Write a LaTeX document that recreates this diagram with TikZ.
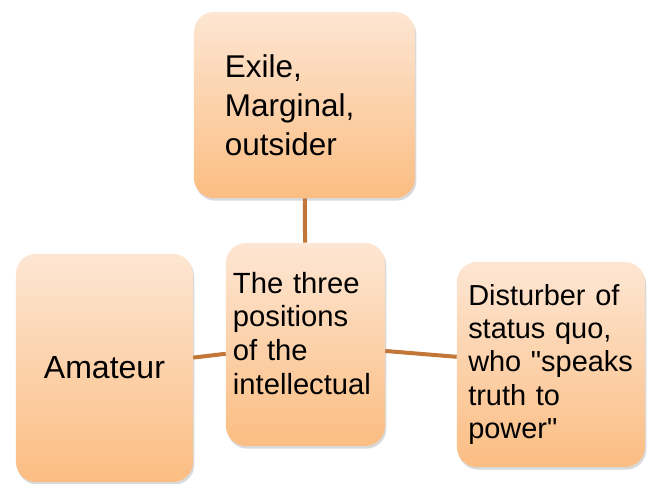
\documentclass[tikz,border=0pt]{standalone}
\usepackage{fontspec}
\setmainfont{Liberation Sans}[Ligatures=TeXOff]
\usetikzlibrary{positioning,shadows}
\definecolor{peachtop}{HTML}{FDE6D3}
\definecolor{peachbot}{HTML}{FBBD82}
\definecolor{linkbrown}{HTML}{C27638}
\tikzstyle{block} = [rectangle, rounded corners=15pt, top color=peachtop,
    bottom color=peachbot, inner sep=0pt, align=left,
    drop shadow={shadow xshift=1pt, shadow yshift=-2pt, opacity=0.3}]
\tikzstyle{line} = [draw, linkbrown, line width=3pt]

\begin{document}
\begin{tikzpicture}[node distance = 2cm]
    \useasboundingbox (0,0) rectangle (485.25pt,362.25pt);
    % Place nodes
    \node [block, minimum width=119.25pt, minimum height=152.25pt, text width=108.75pt, text depth=93pt, font=\fontsize{21.9}{25.4}\selectfont] (intel) at (229.1pt,103.9pt) {The three\\positions\\of the\\intellectual};
    \node [block, node distance=179.6pt, above of=intel, xshift=-0.75pt, minimum width=165.75pt, minimum height=139.5pt, text width=119.25pt, font=\fontsize{23.6}{29.4}\selectfont] (exile) {Exile,\\Marginal,\\outsider};
    \node [block, node distance=150.75pt, left of=intel, yshift=-17.6pt, minimum width=132.75pt, minimum height=171pt, align=center, font=\fontsize{24}{28}\selectfont] (amateur) {Amateur};
    \node [block, node distance=184.1pt, right of=intel, yshift=-15pt, minimum width=141pt, minimum height=153.75pt, text width=124pt, font=\fontsize{21.7}{24.9}\selectfont] (disturber) {Disturber of\\status quo,\\who "speaks\\truth to\\power"};
    % Draw edges
    \path [line] (intel) -- (exile);
    \path [line] (intel) -- (amateur);
    \path [line] (intel) -- (disturber);
\end{tikzpicture}
\end{document}
